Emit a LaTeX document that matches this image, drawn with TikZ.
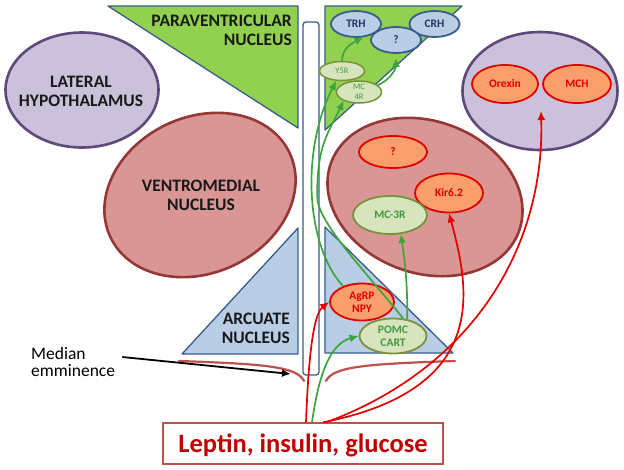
\documentclass[tikz,border=0pt]{standalone}
\usepackage{fontspec}
\setmainfont{Carlito}
\usetikzlibrary{shapes.geometric,arrows.meta}
\definecolor{pvngreen}{HTML}{92D050}
\definecolor{arcblue}{HTML}{B9CDE5}
\definecolor{triborder}{HTML}{385D8A}
\definecolor{vmhfill}{HTML}{D99694}
\definecolor{vmhborder}{HTML}{953735}
\definecolor{lhfill}{HTML}{CCC1DA}
\definecolor{lhborder}{HTML}{5F497A}
\definecolor{orangefill}{HTML}{FA9F6B}
\definecolor{redline}{HTML}{E00000}
\definecolor{olivefill}{HTML}{D7E4BD}
\definecolor{oliveborder}{HTML}{77933C}
\definecolor{greentext}{HTML}{3E9B3E}
\definecolor{greenline}{HTML}{3DA53D}
\definecolor{navytext}{HTML}{1F3864}
\definecolor{meborder}{HTML}{C0504D}
\definecolor{leptred}{HTML}{C00000}

\begin{document}
\begin{tikzpicture}[x=1pt, y=-1pt, every node/.style={inner sep=0pt},
    region/.style={font=\bfseries\fontsize{17.5}{19}\selectfont, text=black!90},
    triangle/.style={draw=triborder, line width=1.3pt, line join=round},
    nucleus/.style={ellipse, line width=2.6pt},
    cell/.style={ellipse, line width=1.8pt, font=\bfseries\fontsize{11.5}{13}\selectfont, align=center},
    peptide/.style={cell, draw=triborder, fill=arcblue, text=navytext},
    receptor/.style={cell, draw=oliveborder, fill=olivefill, text=greentext},
    neuron/.style={cell, draw=redline, fill=orangefill, text=redline},
    redarrow/.style={-{Latex[length=9pt,width=8pt]}, draw=redline, line width=1.7pt},
    greenarrow/.style={-{Latex[length=9pt,width=8pt]}, draw=greenline, line width=1.7pt},
    bracket/.style={draw=meborder, line width=2.2pt, line cap=round}]
    \useasboundingbox (0,0) rectangle (624,469);
    \fill[white] (0,0) rectangle (624,469);

    \draw[triangle, fill=pvngreen] (108,6) -- (298,6) -- (298,128) -- cycle;
    \draw[triangle, fill=pvngreen] (325,6) -- (462,6) -- (325,130) -- cycle;
    \draw[triangle, fill=arcblue] (298,228) -- (298,354) -- (182,354) -- cycle;
    \draw[triangle, fill=arcblue] (325,227) -- (325,353) -- (453,353) -- cycle;
    \node[draw=triborder, fill=white, line width=1.3pt, rounded corners=3pt, minimum width=16pt, minimum height=353pt] (ventricle) at (311,198.5) {};

    \node[nucleus, draw=lhborder, fill=lhfill, minimum width=153pt, minimum height=115pt] (lhl) at (82,90) {};
    \node[nucleus, draw=lhborder, fill=lhfill, minimum width=155pt, minimum height=118pt] (lhr) at (540,91) {};
    \node[nucleus, draw=vmhborder, fill=vmhfill, minimum width=198pt, minimum height=156pt, rotate=25] (vmhl) at (200,195) {};
    \node[nucleus, draw=vmhborder, fill=vmhfill, minimum width=200pt, minimum height=152pt, rotate=-20] (vmhr) at (425,197) {};

    \node[region, align=right, anchor=east] (pvntext) at (292,30.5) {PARAVENTRICULAR\\NUCLEUS};
    \node[region, align=center] (lhtext) at (81,91) {LATERAL\\HYPOTHALAMUS};
    \node[region, align=center] (vmhtext) at (201,195) {VENTROMEDIAL\\NUCLEUS};
    \node[region, align=right, anchor=east] (arctext) at (290,328) {ARCUATE\\NUCLEUS};

    \node[peptide, minimum width=50pt, minimum height=26pt] (trh) at (356,24) {TRH};
    \node[peptide, minimum width=50pt, minimum height=26pt] (crh) at (434.5,24) {CRH};
    \node[peptide, minimum width=50pt, minimum height=26pt] (pvq) at (396,40) {?};
    \node[receptor, line width=1.5pt, font=\fontsize{8.5}{10}\selectfont, minimum width=45pt, minimum height=19pt] (y5r) at (342,71) {Y5R};
    \node[receptor, line width=1.5pt, font=\fontsize{8.5}{10}\selectfont, minimum width=45pt, minimum height=22pt] (mc4r) at (359,92) {MC\\4R};

    \node[neuron, minimum width=68pt, minimum height=32pt] (vmq) at (393,152) {?};
    \node[neuron, minimum width=68pt, minimum height=39pt] (kir) at (449,193) {Kir6.2};
    \node[receptor, minimum width=74pt, minimum height=38pt] (mc3r) at (390,215) {MC-3R};
    \node[neuron, minimum width=64pt, minimum height=37pt] (agrp) at (362,302) {AgRP\\NPY};
    \node[receptor, minimum width=67pt, minimum height=35pt] (pomc) at (393,336) {POMC\\CART};
    \node[neuron, minimum width=66pt, minimum height=38pt] (orexin) at (505,84) {Orexin};
    \node[neuron, minimum width=68pt, minimum height=38pt] (mch) at (577,84) {MCH};
    \coordinate (lhgap) at (541,111);

    \draw[bracket] (179,361) .. controls (268,364) and (297,367) .. (304,381);
    \draw[bracket] (326,381) .. controls (333,367) and (362,364) .. (455,361);

    \node[font=\fontsize{17.5}{17}\selectfont, align=left, anchor=west] (me) at (31,362) {Median\\emminence};
    \coordinate (metip) at (291,374);
    \draw[-{Latex[length=9pt,width=8pt]}, line width=1.8pt] ([shift={(7,-5)}]me.east) -- (metip);

    \node[draw=meborder, fill=white, line width=1.3pt, minimum width=280pt, minimum height=41pt, text=leptred, font=\bfseries\fontsize{26.5}{30}\selectfont, text height=19pt, text depth=2pt] (lep) at (303,443.5) {Leptin, insulin, glucose};

    \draw[greenarrow] (y5r.north) .. controls +(0,-12) and +(-12,6) .. (trh.-60);
    \draw[greenarrow, shorten >=4pt] (mc4r.20) .. controls +(12,-5) and +(0,15) .. (pvq.south);
    \draw[greenarrow] (agrp.140) .. controls +(-37,-40) and +(-36,70) .. (y5r.-120);
    \draw[greenarrow] (pomc.60) .. controls +(-42,-52) and +(0,25) .. ++(-86,-122) .. controls +(0,-50) and +(-17,35) .. (mc4r.-150);
    \draw[greenarrow] (pomc.50) .. controls +(1,-40) and +(2,15) .. (mc3r.-60);
    \draw[greenarrow] ([xshift=9pt]lep.north) .. controls +(6,-43) and +(-30,8) .. (pomc.west);
    \draw[redarrow] ([xshift=3pt]lep.north) .. controls +(2,-53) and +(-17,13) .. (agrp.west);
    \draw[redarrow] ([xshift=20pt]lep.north) .. controls +(167,-33) and +(21,77) .. (kir.south);
    \draw[redarrow] ([xshift=23pt]lep.north) .. controls +(144,-53) and +(4,139) .. (lhgap);
\end{tikzpicture}
\end{document}
